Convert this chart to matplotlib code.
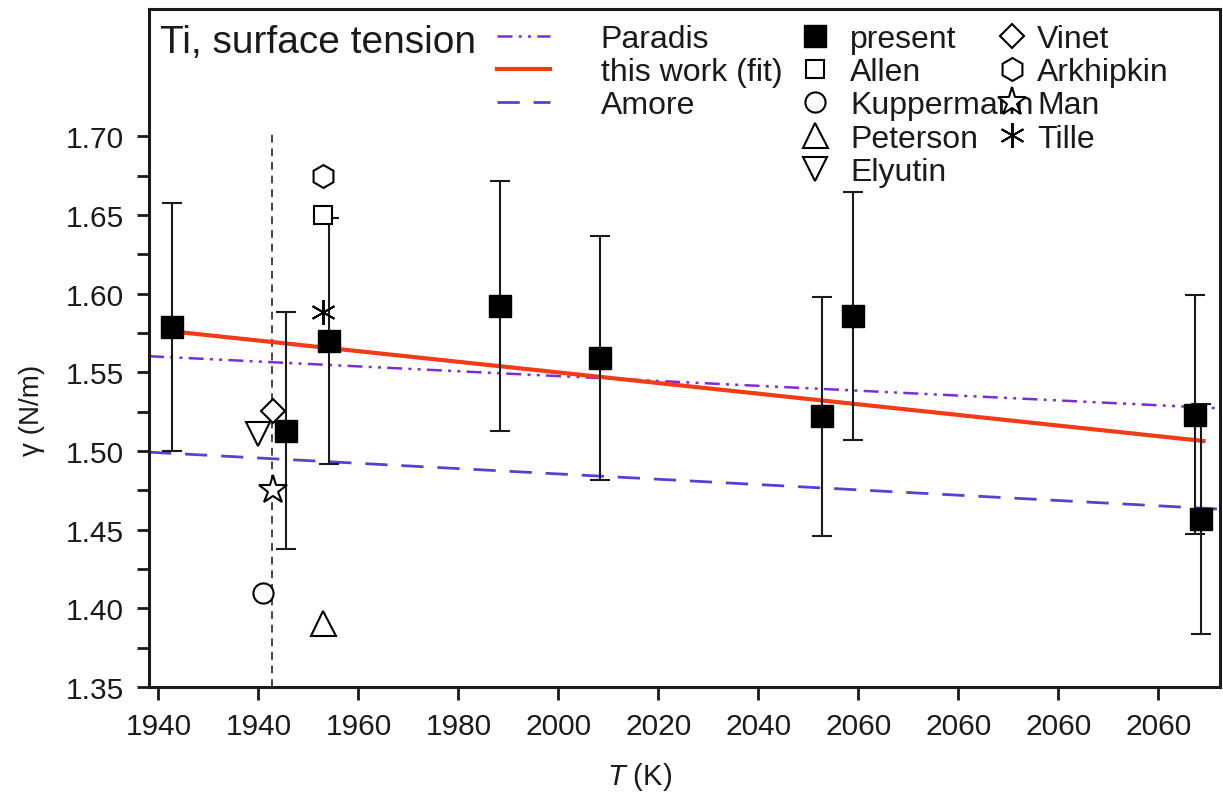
import numpy as np
import matplotlib
matplotlib.use('Agg')
import matplotlib.pyplot as plt
from matplotlib.ticker import FixedLocator, FixedFormatter

plt.rcParams['font.family'] = ['Liberation Sans', 'DejaVu Sans']
plt.rcParams['mathtext.fontset'] = 'custom'
plt.rcParams['mathtext.rm'] = 'Liberation Sans'
plt.rcParams['mathtext.it'] = 'Liberation Sans:italic'

# present measurements (temperature axis, surface tension, uncertainty)
present_T = [1942.7, 1965.5, 1974.2, 2008.3, 2028.4, 2072.7, 2079.0, 2147.3, 2148.5]
present_gamma = [1.579, 1.513, 1.570, 1.592, 1.559, 1.522, 1.586, 1.523, 1.457]
present_err = [0.079, 0.0755, 0.078, 0.0795, 0.0777, 0.076, 0.079, 0.076, 0.073]

# linear fit and literature correlations (end points)
fit_T = [1942.7, 2149.0]
fit_gamma = [1.5761, 1.5064]
paradis_T = [1938.1, 2152.3]
paradis_gamma = [1.5603, 1.5272]
amore_T = [1938.1, 2152.3]
amore_gamma = [1.4993, 1.4631]

# literature single values
allen = (1972.9, 1.650)
kuppermann = (1960.9, 1.410)
peterson = (1973.0, 1.391)
elyutin = (1960.0, 1.511)
vinet = (1962.9, 1.5255)
arkhipkin = (1972.9, 1.675)
man = (1962.9, 1.475)
tille = (1972.9, 1.5886)

T_melt = 1962.7

x_ticks = [1940, 1960, 1980, 2000, 2020, 2040, 2060, 2080, 2100, 2120, 2140]
x_tick_labels = ['1940', '1940', '1960', '1980', '2000', '2020', '2040',
                 '2060', '2060', '2060', '2060']
y_ticks = [1.35, 1.40, 1.45, 1.50, 1.55, 1.60, 1.65, 1.70]
y_minor = [1.375, 1.425, 1.475, 1.525, 1.575, 1.625, 1.675]

ink = '#1a1a1a'

fig = plt.figure(figsize=(12.23, 8.03), dpi=100)
ax = fig.add_axes([0.1218, 0.1432, 0.8757, 0.8443])

ax.vlines(T_melt, 1.35, 1.7044, colors='#444444', linestyles=(0, (4, 3)), lw=1.4, zorder=1)

paradis, = ax.plot(paradis_T, paradis_gamma, color='#7a2fd6', lw=1.8,
                   dashes=(6, 2.5, 1.2, 2.5, 1.2, 2.5), label='Paradis', zorder=2)
fit, = ax.plot(fit_T, fit_gamma, color='#f03c17', lw=3.0, label='this work (fit)', zorder=2)
amore, = ax.plot(amore_T, amore_gamma, color='#5b3fd2', lw=2.0, dashes=(8, 5),
                 label='Amore', zorder=2)

ax.errorbar(present_T, present_gamma, yerr=present_err, fmt='none', ecolor=ink,
            elinewidth=1.5, capsize=7, capthick=1.5, zorder=3)
present, = ax.plot(present_T, present_gamma, 's', color='black', ms=15.5,
                   ls='none', label='present', zorder=4)

open_kw = dict(ls='none', mfc='white', mec='black', mew=1.5, zorder=4)
h_allen, = ax.plot(*allen, 's', ms=13.5, label='Allen', **open_kw)
h_kupp, = ax.plot(*kuppermann, 'o', ms=14.5, label='Kuppermann', **open_kw)
h_pet, = ax.plot(*peterson, '^', ms=18, label='Peterson', **open_kw)
h_ely, = ax.plot(*elyutin, 'v', ms=17.5, label='Elyutin', **open_kw)
h_vinet, = ax.plot(*vinet, 'D', ms=12.5, label='Vinet', **open_kw)
h_ark, = ax.plot(*arkhipkin, 'h', ms=16.5, label='Arkhipkin', **open_kw)
h_man, = ax.plot(*man, '*', ms=21, label='Man', **open_kw)
h_tille, = ax.plot(*tille, marker=(6, 2, 0), ms=18, ls='none', color='black',
                   mew=1.4, label='Tille', zorder=4)

ax.set_xlim(1938.1, 2152.3)
ax.set_ylim(1.35, 1.781)

ax.xaxis.set_major_locator(FixedLocator(x_ticks))
ax.xaxis.set_major_formatter(FixedFormatter(x_tick_labels))
ax.yaxis.set_major_locator(FixedLocator(y_ticks))
ax.yaxis.set_minor_locator(FixedLocator(y_minor))
ax.yaxis.set_major_formatter(FixedFormatter(['%.2f' % v for v in y_ticks]))

ax.tick_params(axis='both', which='both', direction='out', width=2.0, colors=ink,
               labelsize=21.5, labelcolor=ink)
ax.tick_params(axis='y', which='both', length=9, pad=9)
ax.tick_params(axis='x', which='major', length=9, pad=9)
for s in ax.spines.values():
    s.set_linewidth(2.2)
    s.set_color(ink)

ax.set_xlabel('$T$ (K)', fontsize=21, color=ink)
ax.xaxis.set_label_coords(0.458, -0.108)
ax.set_ylabel('γ (N/m)', fontsize=20, color=ink)
ax.yaxis.set_label_coords(-0.097, 0.41)

ax.text(0.0103, 0.952, 'Ti, surface tension', transform=ax.transAxes, fontsize=28,
        color=ink, va='center', ha='left')

leg_kw = dict(loc='upper left', frameon=False, fontsize=23, borderpad=0,
              borderaxespad=0, labelspacing=0.1, labelcolor=ink)
leg1 = ax.legend(handles=[paradis, fit, amore], bbox_to_anchor=(0.325, 0.978),
                 handlelength=1.65, handletextpad=1.6, **leg_kw)
ax.add_artist(leg1)
leg2 = ax.legend(handles=[present, h_allen, h_kupp, h_pet, h_ely],
                 bbox_to_anchor=(0.607, 0.978), handlelength=1.0,
                 handletextpad=0.6, **leg_kw)
ax.add_artist(leg2)
ax.legend(handles=[h_vinet, h_ark, h_man, h_tille], bbox_to_anchor=(0.791, 0.978),
          handlelength=1.0, handletextpad=0.28, **leg_kw)

fig.savefig('out.png', dpi=100, facecolor='white')
